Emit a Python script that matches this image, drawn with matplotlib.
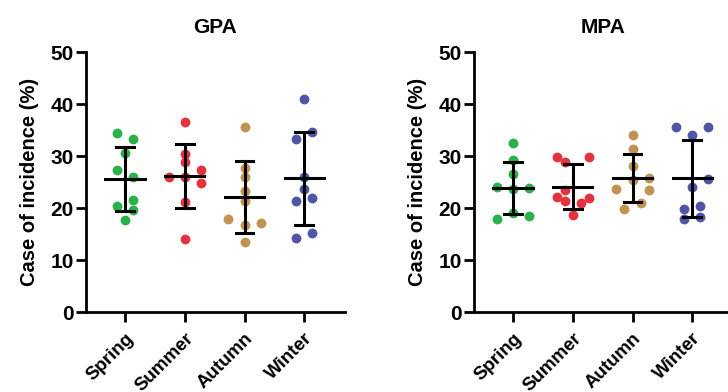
import numpy as np
import matplotlib
matplotlib.use("Agg")
import matplotlib.pyplot as plt

plt.rcParams['font.family'] = ['Liberation Sans', 'DejaVu Sans']
plt.rcParams['font.weight'] = 'bold'

seasons = ['Spring', 'Summer', 'Autumn', 'Winter']
colors = ['#2cb04a', '#e5323f', '#c29250', '#5055a6']

# values (%), 9 per season
gpa_spring = [34.5, 33.2, 30.5, 27.3, 26.0, 21.6, 20.4, 19.6, 17.7]
gpa_summer = [36.5, 30.4, 28.9, 27.3, 25.9, 25.9, 24.9, 21.2, 14.1]
gpa_autumn = [35.6, 27.7, 26.0, 23.2, 21.4, 17.9, 17.2, 16.8, 13.4]
gpa_winter = [40.9, 34.7, 33.2, 25.9, 23.7, 21.9, 21.3, 15.2, 14.3]

mpa_spring = [32.5, 29.3, 26.5, 24.1, 23.6, 23.9, 19.0, 18.5, 17.9]
mpa_summer = [29.9, 29.8, 28.9, 23.5, 22.2, 21.9, 21.3, 20.9, 18.6]
mpa_autumn = [34.0, 31.4, 28.0, 25.3, 25.7, 23.7, 23.5, 20.9, 19.9]
mpa_winter = [35.6, 35.5, 34.1, 25.5, 24.1, 19.9, 20.4, 17.9, 18.2]

# horizontal jitter columns (in steps) for each point
gpa_cols = [
    [-1, 1, 0, -1, 1, 1, -1, 1, 0],
    [0, 0, 0, 2, -2, 0, 2, 0, 0],
    [0, 0, 0, 0, 0, -2, 2, 0, 0],
    [0, 1, -1, 0, 0, 1, -1, 1, -1],
]
mpa_cols = [
    [0, 0, 0, -2, 0, 2, 0, 2, -2],
    [-2, 2, -1, -1, -2, 2, -1, 1, 0],
    [0, 0, 0, 0, 2, -2, 2, 1, -1],
    [-2, 2, 0, 2, 0, -1, 1, -1, 1],
]

panels = [
    ('GPA', [gpa_spring, gpa_summer, gpa_autumn, gpa_winter], gpa_cols),
    ('MPA', [mpa_spring, mpa_summer, mpa_autumn, mpa_winter], mpa_cols),
]

fig = plt.figure(figsize=(7.28, 3.92), dpi=100)
axes = [fig.add_axes([86 / 728, 80 / 392, 259 / 728, 260 / 392]),
        fig.add_axes([474 / 728, 80 / 392, 259 / 728, 260 / 392])]

step = 0.135
for ax, (title, groups, cols) in zip(axes, panels):
    for i, (vals, col) in enumerate(zip(groups, cols)):
        vals = np.array(vals)
        xs = i + step * np.array(col)
        ax.scatter(xs, vals, s=50, color=colors[i], zorder=2, linewidths=0)
        m = vals.mean()
        sd = vals.std(ddof=1)
        ax.plot([i - 0.33, i + 0.33], [m, m], color='black', lw=2.2, zorder=3)
        ax.plot([i, i], [m - sd, m + sd], color='black', lw=2.2, zorder=3)
        for y in (m - sd, m + sd):
            ax.plot([i - 0.15, i + 0.15], [y, y], color='black', lw=2.2, zorder=3)

    ax.set_xlim(-0.65, 3.68)
    ax.set_ylim(0, 50)
    ax.set_yticks([0, 10, 20, 30, 40, 50])
    ax.set_xticks(range(4))
    ax.set_xticklabels(seasons, rotation=45, ha='right', rotation_mode='anchor',
                       fontsize=13.5, fontweight='bold')
    ax.tick_params(axis='y', labelsize=15, width=2, length=7, pad=2)
    ax.tick_params(axis='x', width=2, length=7, pad=6)
    for lab in ax.get_yticklabels():
        lab.set_fontweight('bold')
    for s in ('top', 'right'):
        ax.spines[s].set_visible(False)
    for s in ('left', 'bottom'):
        ax.spines[s].set_linewidth(2)
    ax.set_title(title, fontsize=15, fontweight='bold', pad=14)
    ax.set_ylabel('Case of incidence (%)', fontsize=14.5, fontweight='bold', labelpad=8)

fig.savefig('out.png', dpi=100)
